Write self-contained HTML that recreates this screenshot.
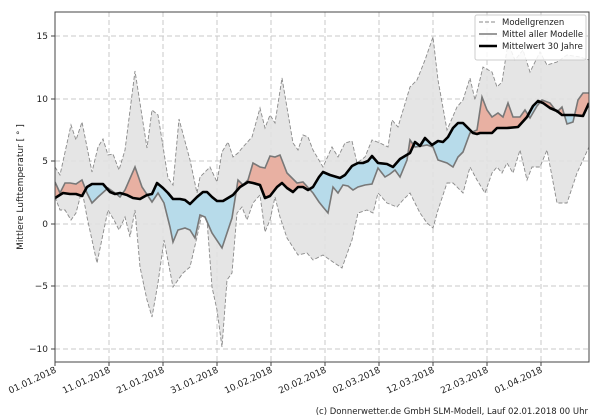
<!DOCTYPE html>
<html><head><meta charset="utf-8"><style>
html,body{margin:0;padding:0;background:#fff;}
svg{display:block;font-family:"DejaVu Sans","Liberation Sans",sans-serif;}
</style></head><body>
<svg width="600" height="420" viewBox="0 0 600 420" xmlns="http://www.w3.org/2000/svg">
<defs>
<clipPath id="plot"><rect x="55" y="12" width="534" height="350"/></clipPath>
<clipPath id="aboveBlack"><polygon points="55,12 55,198 63,193 70,194 76,194 82,196 87,187 92,184 103,184 110,192 115,194 120,193 127,195 133,198 140,199 147,195 152,194 157,183 163,188 168,193 173,199 180,199 185,200 190,204 197,197 203,192 207,192 212,197 217,201 223,201 228,198 233,195 240,187 248,182 253,183 260,185 265,198 270,196 277,187 282,183 287,188 293,192 298,187 303,187 308,190 313,187 319,177 323,172 330,175 340,178 345,175 352,166 358,163 363,163 368,161 372,156 378,163 387,164 393,167 400,159 410,153 415,142 420,146 425,138 432,145 438,141 443,142 448,137 453,128 458,123 463,123 468,128 473,133 477,134 480,133 487,133 492,133 497,128 507,128 518,127 527,117 533,106 538,101 543,103 550,108 557,111 562,115 573,115 583,116 589,103 589,12"/></clipPath>
<clipPath id="belowBlack"><polygon points="55,362 55,198 63,193 70,194 76,194 82,196 87,187 92,184 103,184 110,192 115,194 120,193 127,195 133,198 140,199 147,195 152,194 157,183 163,188 168,193 173,199 180,199 185,200 190,204 197,197 203,192 207,192 212,197 217,201 223,201 228,198 233,195 240,187 248,182 253,183 260,185 265,198 270,196 277,187 282,183 287,188 293,192 298,187 303,187 308,190 313,187 319,177 323,172 330,175 340,178 345,175 352,166 358,163 363,163 368,161 372,156 378,163 387,164 393,167 400,159 410,153 415,142 420,146 425,138 432,145 438,141 443,142 448,137 453,128 458,123 463,123 468,128 473,133 477,134 480,133 487,133 492,133 497,128 507,128 518,127 527,117 533,106 538,101 543,103 550,108 557,111 562,115 573,115 583,116 589,103 589,362"/></clipPath>
</defs>
<rect width="600" height="420" fill="#fff"/>
<g stroke="#c8c8c8" stroke-width="1" stroke-dasharray="5,3">
<line x1="55" x2="589" y1="36" y2="36"/><line x1="55" x2="589" y1="99" y2="99"/><line x1="55" x2="589" y1="161" y2="161"/><line x1="55" x2="589" y1="224" y2="224"/><line x1="55" x2="589" y1="286" y2="286"/><line x1="55" x2="589" y1="349" y2="349"/>
<line x1="109" x2="109" y1="12" y2="362"/><line x1="163" x2="163" y1="12" y2="362"/><line x1="217" x2="217" y1="12" y2="362"/><line x1="271" x2="271" y1="12" y2="362"/><line x1="325" x2="325" y1="12" y2="362"/><line x1="379" x2="379" y1="12" y2="362"/><line x1="433" x2="433" y1="12" y2="362"/><line x1="487" x2="487" y1="12" y2="362"/><line x1="541" x2="541" y1="12" y2="362"/>
</g>
<g clip-path="url(#plot)">
<polygon fill="#e2e2e2" fill-opacity="0.9" stroke="none" points="55,167 60,175 71,125 76,140 82,122 92,172 98,147 103,139 108,155 113,154 119,170 125,150 135,71 147,148 152,110 158,115 168,178 173,185 179,119 190,160 197,193 200,177 210,167 217,182 222,152 228,142 233,157 238,153 243,147 252,137 260,108 265,128 270,115 275,123 282,78 293,143 298,150 303,135 308,137 313,150 323,167 332,147 338,157 345,143 352,141 357,163 365,157 372,140 380,143 388,147 392,120 398,127 410,87 417,80 425,60 433,37 438,80 447,130 457,107 463,100 470,78 475,100 483,67 492,72 497,87 502,82 508,43 515,60 523,50 530,72 540,52 547,65 557,62 567,55 580,57 589,60 589,147 577,173 567,203 557,203 547,150 540,167 532,167 527,180 520,150 513,173 507,163 502,173 497,167 492,173 485,193 477,180 470,167 463,193 453,183 447,183 438,210 433,228 427,223 420,213 410,193 403,200 397,207 387,203 378,193 373,213 367,210 358,213 352,240 342,268 333,262 323,255 313,260 307,253 298,255 287,238 280,217 275,197 270,220 265,232 260,195 253,203 247,220 242,207 237,213 232,273 227,280 222,347 217,310 212,287 207,220 202,213 197,237 190,267 183,273 173,287 164,240 158,283 152,317 147,300 140,267 135,210 130,237 125,217 119,230 114,220 108,210 97,263 87,217 82,190 76,213 71,220 65,210 60,210 55,197"/>
<polyline fill="none" stroke="#8a8a8a" stroke-width="0.9" stroke-dasharray="4,2" points="55,167 60,175 71,125 76,140 82,122 92,172 98,147 103,139 108,155 113,154 119,170 125,150 135,71 147,148 152,110 158,115 168,178 173,185 179,119 190,160 197,193 200,177 210,167 217,182 222,152 228,142 233,157 238,153 243,147 252,137 260,108 265,128 270,115 275,123 282,78 293,143 298,150 303,135 308,137 313,150 323,167 332,147 338,157 345,143 352,141 357,163 365,157 372,140 380,143 388,147 392,120 398,127 410,87 417,80 425,60 433,37 438,80 447,130 457,107 463,100 470,78 475,100 483,67 492,72 497,87 502,82 508,43 515,60 523,50 530,72 540,52 547,65 557,62 567,55 580,57 589,60"/>
<polyline fill="none" stroke="#8a8a8a" stroke-width="0.9" stroke-dasharray="4,2" points="55,197 60,210 65,210 71,220 76,213 82,190 87,217 97,263 108,210 114,220 119,230 125,217 130,237 135,210 140,267 147,300 152,317 158,283 164,240 173,287 183,273 190,267 197,237 202,213 207,220 212,287 217,310 222,347 227,280 232,273 237,213 242,207 247,220 253,203 260,195 265,232 270,220 275,197 280,217 287,238 298,255 307,253 313,260 323,255 333,262 342,268 352,240 358,213 367,210 373,213 378,193 387,203 397,207 403,200 410,193 420,213 427,223 433,228 438,210 447,183 453,183 463,193 470,167 477,180 485,193 492,173 497,167 502,173 507,163 513,173 520,150 527,180 532,167 540,167 547,150 557,203 567,203 577,173 589,147"/>
<polygon clip-path="url(#aboveBlack)" fill="#e8b0a2" points="55,362 55,182 60,193 65,183 70,183 76,184 82,180 87,193 92,203 98,197 108,188 115,193 120,197 125,190 135,167 142,187 152,202 158,193 164,203 170,227 173,242 178,230 185,228 190,230 195,238 200,215 205,217 212,233 222,248 227,233 232,218 238,180 243,185 248,180 253,163 260,167 265,168 270,156 275,157 280,155 287,173 297,183 303,182 313,193 319,202 323,207 328,213 333,187 338,193 343,185 348,186 353,190 358,187 365,185 372,184 378,168 385,177 390,174 395,170 400,177 407,160 410,140 415,147 422,146 427,145 433,147 438,160 447,163 453,167 458,157 463,152 470,133 477,130 482,97 487,110 492,117 498,113 503,117 508,103 513,117 520,117 525,110 530,118 537,106 542,100 550,103 557,112 562,107 567,124 573,122 578,100 583,93 589,93 589,362"/>
<polygon clip-path="url(#belowBlack)" fill="#b7dbea" points="55,12 55,182 60,193 65,183 70,183 76,184 82,180 87,193 92,203 98,197 108,188 115,193 120,197 125,190 135,167 142,187 152,202 158,193 164,203 170,227 173,242 178,230 185,228 190,230 195,238 200,215 205,217 212,233 222,248 227,233 232,218 238,180 243,185 248,180 253,163 260,167 265,168 270,156 275,157 280,155 287,173 297,183 303,182 313,193 319,202 323,207 328,213 333,187 338,193 343,185 348,186 353,190 358,187 365,185 372,184 378,168 385,177 390,174 395,170 400,177 407,160 410,140 415,147 422,146 427,145 433,147 438,160 447,163 453,167 458,157 463,152 470,133 477,130 482,97 487,110 492,117 498,113 503,117 508,103 513,117 520,117 525,110 530,118 537,106 542,100 550,103 557,112 562,107 567,124 573,122 578,100 583,93 589,93 589,12"/>
<polyline fill="none" stroke="#787878" stroke-width="1.6" points="55,182 60,193 65,183 70,183 76,184 82,180 87,193 92,203 98,197 108,188 115,193 120,197 125,190 135,167 142,187 152,202 158,193 164,203 170,227 173,242 178,230 185,228 190,230 195,238 200,215 205,217 212,233 222,248 227,233 232,218 238,180 243,185 248,180 253,163 260,167 265,168 270,156 275,157 280,155 287,173 297,183 303,182 313,193 319,202 323,207 328,213 333,187 338,193 343,185 348,186 353,190 358,187 365,185 372,184 378,168 385,177 390,174 395,170 400,177 407,160 410,140 415,147 422,146 427,145 433,147 438,160 447,163 453,167 458,157 463,152 470,133 477,130 482,97 487,110 492,117 498,113 503,117 508,103 513,117 520,117 525,110 530,118 537,106 542,100 550,103 557,112 562,107 567,124 573,122 578,100 583,93 589,93"/>
<polyline fill="none" stroke="#000" stroke-width="2.6" stroke-linejoin="round" points="55,198 63,193 70,194 76,194 82,196 87,187 92,184 103,184 110,192 115,194 120,193 127,195 133,198 140,199 147,195 152,194 157,183 163,188 168,193 173,199 180,199 185,200 190,204 197,197 203,192 207,192 212,197 217,201 223,201 228,198 233,195 240,187 248,182 253,183 260,185 265,198 270,196 277,187 282,183 287,188 293,192 298,187 303,187 308,190 313,187 319,177 323,172 330,175 340,178 345,175 352,166 358,163 363,163 368,161 372,156 378,163 387,164 393,167 400,159 410,153 415,142 420,146 425,138 432,145 438,141 443,142 448,137 453,128 458,123 463,123 468,128 473,133 477,134 480,133 487,133 492,133 497,128 507,128 518,127 527,117 533,106 538,101 543,103 550,108 557,111 562,115 573,115 583,116 589,103"/>
</g>
<rect x="55" y="12" width="534" height="350" fill="none" stroke="#444" stroke-width="1"/>
<g stroke="#444" stroke-width="1">
<line x1="51" x2="55" y1="36" y2="36"/><line x1="51" x2="55" y1="99" y2="99"/><line x1="51" x2="55" y1="161" y2="161"/><line x1="51" x2="55" y1="224" y2="224"/><line x1="51" x2="55" y1="286" y2="286"/><line x1="51" x2="55" y1="349" y2="349"/>
<line x1="55" x2="55" y1="362" y2="366"/><line x1="109" x2="109" y1="362" y2="366"/><line x1="163" x2="163" y1="362" y2="366"/><line x1="217" x2="217" y1="362" y2="366"/><line x1="271" x2="271" y1="362" y2="366"/><line x1="325" x2="325" y1="362" y2="366"/><line x1="379" x2="379" y1="362" y2="366"/><line x1="433" x2="433" y1="362" y2="366"/><line x1="487" x2="487" y1="362" y2="366"/><line x1="541" x2="541" y1="362" y2="366"/>
</g>
<g font-size="9" fill="#222" text-anchor="end">
<text x="48" y="39">15</text><text x="48" y="102">10</text><text x="48" y="164">5</text><text x="48" y="227">0</text><text x="48" y="289">−5</text><text x="48" y="352">−10</text>
</g>
<g font-size="9" fill="#222" text-anchor="end">
<text transform="translate(57,372) rotate(-25)">01.01.2018</text>
<text transform="translate(111,372) rotate(-25)">11.01.2018</text>
<text transform="translate(165,372) rotate(-25)">21.01.2018</text>
<text transform="translate(219,372) rotate(-25)">31.01.2018</text>
<text transform="translate(273,372) rotate(-25)">10.02.2018</text>
<text transform="translate(327,372) rotate(-25)">20.02.2018</text>
<text transform="translate(381,372) rotate(-25)">02.03.2018</text>
<text transform="translate(435,372) rotate(-25)">12.03.2018</text>
<text transform="translate(489,372) rotate(-25)">22.03.2018</text>
<text transform="translate(543,372) rotate(-25)">01.04.2018</text>
</g>
<text transform="translate(23,187) rotate(-90)" font-size="9" fill="#222" text-anchor="middle">Mittlere Lufttemperatur [ ° ]</text>
<text x="588" y="414" font-size="8.5" fill="#222" text-anchor="end">(c) Donnerwetter.de GmbH SLM-Modell, Lauf 02.01.2018 00 Uhr</text>
<rect x="475" y="15" width="111" height="45" rx="2" fill="#fff" fill-opacity="0.85" stroke="#ccc"/>
<line x1="479" x2="497" y1="22" y2="22" stroke="#8a8a8a" stroke-width="1" stroke-dasharray="4,2"/>
<line x1="479" x2="497" y1="34" y2="34" stroke="#787878" stroke-width="1.6"/>
<line x1="479" x2="497" y1="46" y2="46" stroke="#000" stroke-width="2.6"/>
<g font-size="8.5" fill="#222">
<text x="502" y="25">Modellgrenzen</text>
<text x="502" y="37">Mittel aller Modelle</text>
<text x="502" y="49">Mittelwert 30 Jahre</text>
</g>
</svg>
</body></html>
